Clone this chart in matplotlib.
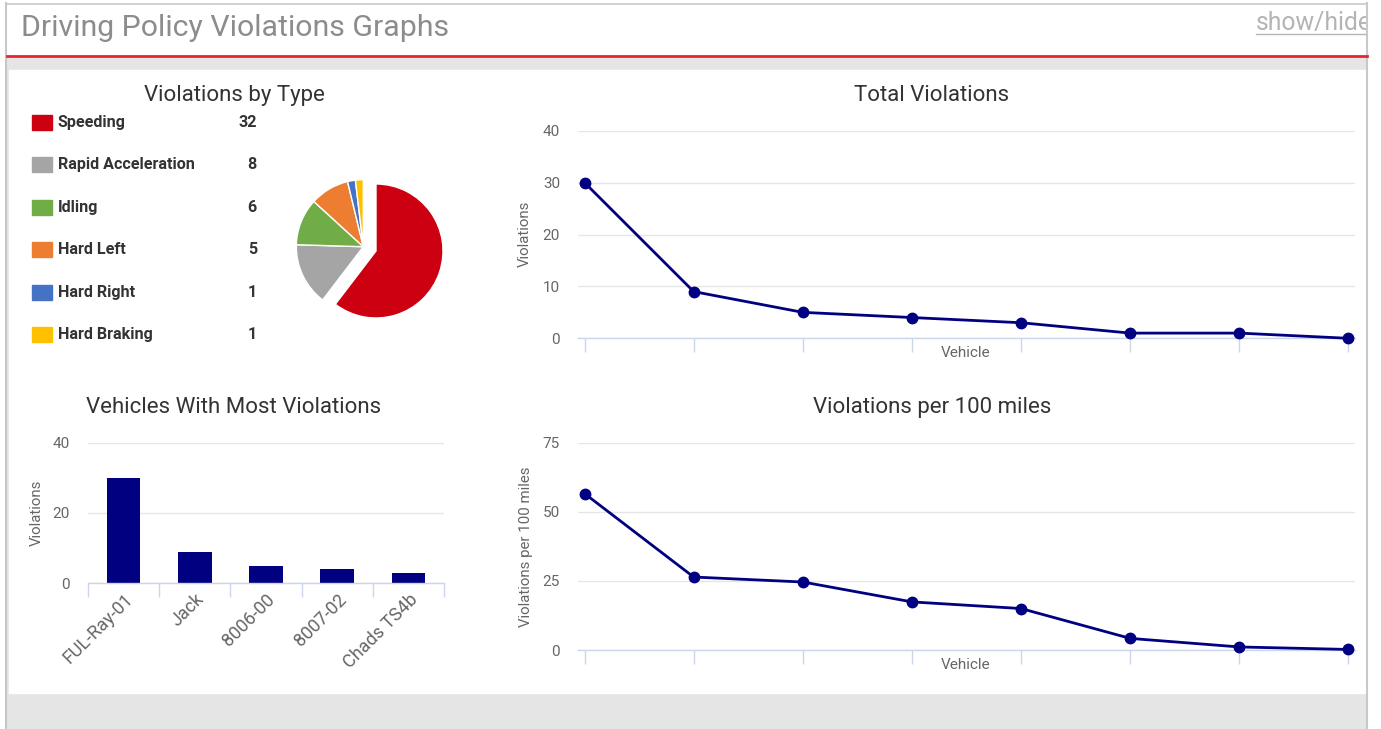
import matplotlib.pyplot as plt
from matplotlib.patches import Rectangle

plt.rcParams['font.family'] = ['Roboto', 'DejaVu Sans']

# data
types = ['Speeding', 'Rapid Acceleration', 'Idling', 'Hard Left', 'Hard Right', 'Hard Braking']
type_counts = [32, 8, 6, 5, 1, 1]
type_colors = ['#cc0010', '#a5a5a5', '#70ad47', '#ed7d31', '#4472c4', '#ffc000']

vehicles = ['FUL-Ray-01', 'Jack', '8006-00', '8007-02', 'Chads TS4b']
vehicle_violations = [30, 9, 5, 4, 3]

total_violations = [30, 9, 5, 4, 3, 1, 1, 0]
per_100_miles = [56.6, 26.4, 24.6, 17.4, 15.0, 4.2, 1.1, 0.2]

W, H = 1381, 729
NAVY = '#000080'
GRID = '#e6e6e6'
AXIS = '#ccd6eb'
TXT = '#333333'
LBL = '#666666'


def box(x0, y0, x1, y1):
    return [x0 / W, 1 - y1 / H, (x1 - x0) / W, (y1 - y0) / H]


fig = plt.figure(figsize=(W / 100, H / 100), dpi=100)

# page background / frame
bg = fig.add_axes([0, 0, 1, 1])
bg.set_xlim(0, W)
bg.set_ylim(H, 0)
bg.axis('off')
bg.add_patch(Rectangle((7, 57), 1360, 672, color='#e5e5e5', zorder=0))
bg.add_patch(Rectangle((9, 70), 1357, 623, color='white', zorder=1))

bg.text(21, 28, 'Driving Policy Violations Graphs', fontsize=21.8, color='#8c8c8c',
        ha='left', va='center', zorder=3)
bg.text(1256, 23, 'show/hide', fontsize=17.8, color='#b4b4b4',
        ha='left', va='center', zorder=3)
bg.plot([1256, 1366], [34, 34], color='#b4b4b4', lw=1, zorder=3)
# cut off what runs past the right border
bg.add_patch(Rectangle((1367, 0), 20, H, color='white', zorder=4))

bg.plot([6.5, 6.5], [3, 729], color='#c8c8c8', lw=1.5, zorder=5)
bg.plot([1367, 1367], [3, 729], color='#c8c8c8', lw=1.5, zorder=5)
bg.plot([6.5, 1367], [3.5, 3.5], color='#c8c8c8', lw=1.2, zorder=5)
bg.plot([7, 1367], [55.5, 55.5], color='#e8262d', lw=2, zorder=5)

# titles and axis labels
titles = [(234, 95, 'Violations by Type'), (932, 95, 'Total Violations'),
          (234, 407, 'Vehicles With Most Violations'), (932, 407, 'Violations per 100 miles')]
for x, y, t in titles:
    bg.text(x, y, t, fontsize=16, color=TXT, ha='center', va='center', zorder=3)

bg.text(37, 513, 'Violations', fontsize=10.8, color=LBL, rotation=90, ha='center', va='center', zorder=3)
bg.text(525, 234, 'Violations', fontsize=10.8, color=LBL, rotation=90, ha='center', va='center', zorder=3)
bg.text(526, 547, 'Violations per 100 miles', fontsize=10.8, color=LBL, rotation=90,
        ha='center', va='center', zorder=3)
bg.text(966, 353, 'Vehicle', fontsize=11, color=LBL, ha='center', va='center', zorder=3)
bg.text(966, 665, 'Vehicle', fontsize=11, color=LBL, ha='center', va='center', zorder=3)

# legend for pie
for i, (name, n, c) in enumerate(zip(types, type_counts, type_colors)):
    y = 122 + i * 42.5
    bg.add_patch(Rectangle((32, y - 7.5), 20, 15, color=c, zorder=3))
    bg.text(58, y, name, fontsize=11.6, fontweight='bold', color=TXT, ha='left', va='center', zorder=3)
    bg.text(257, y, str(n), fontsize=11.6, fontweight='bold', color=TXT, ha='right', va='center', zorder=3)

# pie
cx, cy, r = 363.3, 246.7, 67
pa = fig.add_axes(box(cx - 100, cy - 100, cx + 100, cy + 100))
pa.pie(type_counts, colors=type_colors, startangle=90, counterclock=False,
       explode=[0.2, 0, 0, 0, 0, 0], radius=1,
       wedgeprops=dict(edgecolor='white', linewidth=1))
pa.set_xlim(-100 / r, 100 / r)
pa.set_ylim(-100 / r, 100 / r)
pa.set_aspect('equal')
pa.axis('off')


def style(ax):
    ax.set_facecolor('none')
    for s in ['top', 'right', 'left']:
        ax.spines[s].set_visible(False)
    ax.spines['bottom'].set_color(AXIS)
    ax.spines['bottom'].set_linewidth(1)
    ax.grid(axis='y', color=GRID, lw=1)
    ax.set_axisbelow(True)
    ax.tick_params(axis='y', length=0, labelsize=11, labelcolor=LBL, pad=13)
    ax.tick_params(axis='x', length=8, color=AXIS, width=1)


# bar chart
ba = fig.add_axes(box(88, 442.7, 444, 583.3))
style(ba)
ba.bar(range(len(vehicles)), vehicle_violations, width=0.47, color=NAVY, zorder=2)
ba.set_xlim(-0.5, len(vehicles) - 0.5)
ba.set_ylim(0, 40)
ba.set_yticks([0, 20, 40])
ba.set_xticks([i - 0.5 for i in range(len(vehicles) + 1)])
ba.set_xticklabels([])
ba.set_xticks(range(len(vehicles)), minor=True)
ba.set_xticklabels(vehicles, minor=True, rotation=45, ha='right', va='top',
                   rotation_mode='anchor', fontsize=13, color=LBL)
ba.tick_params(axis='x', which='minor', length=0, pad=5)
ba.tick_params(axis='x', which='major', length=10)

# line charts
for rect, vals, ymax, yt in [((578, 130.7, 1355, 338.3), total_violations, 40, [0, 10, 20, 30, 40]),
                             ((578, 442.7, 1355, 650), per_100_miles, 75, [0, 25, 50, 75])]:
    ax = fig.add_axes(box(*rect))
    style(ax)
    ax.plot(range(len(vals)), vals, color=NAVY, lw=2, marker='o', ms=7.5, zorder=3, clip_on=False)
    ax.set_xlim(-0.06, len(vals) - 1 + 0.06)
    ax.set_ylim(0, ymax)
    ax.set_yticks(yt)
    ax.set_xticks(range(len(vals)))
    ax.set_xticklabels([])
    ax.tick_params(axis='x', length=10)

fig.savefig('out.png', dpi=100)
